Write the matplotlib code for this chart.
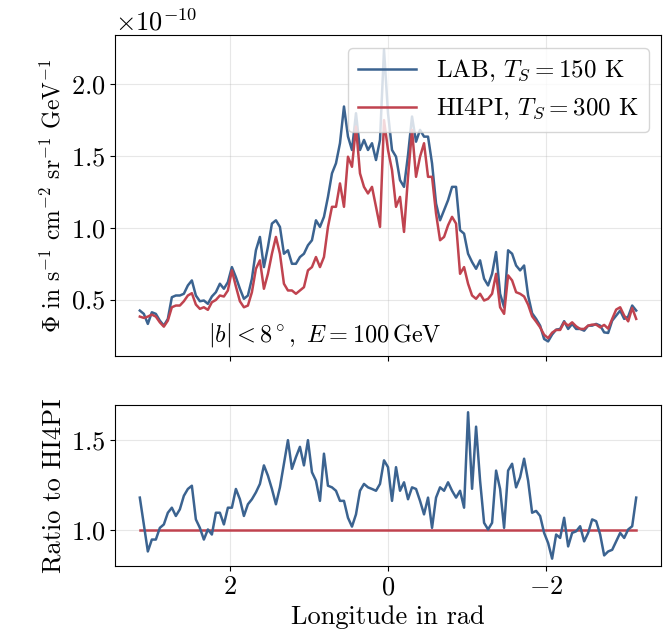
import numpy as np
import matplotlib
matplotlib.use("Agg")
import matplotlib.pyplot as plt

plt.rcParams.update({
    "font.family": "serif",
    "font.serif": ["cmr10"],
    "mathtext.fontset": "cm",
    "axes.formatter.use_mathtext": True,
    "axes.unicode_minus": True,
    "font.size": 19,
})

# Galactic longitude grid, pi -> -pi
lon = np.linspace(np.pi, -np.pi, 125)

# flux in units of 1e-10 s^-1 cm^-2 sr^-1 GeV^-1
lab = [0.423, 0.400, 0.330, 0.411, 0.400, 0.353, 0.318, 0.365, 0.516, 0.528,
       0.528, 0.540, 0.598, 0.633, 0.528, 0.488, 0.493, 0.470, 0.521, 0.551,
       0.610, 0.575, 0.621, 0.726, 0.656, 0.575, 0.505, 0.528, 0.645, 0.843,
       0.936,
       0.726, 0.866, 1.029, 1.052, 1.006, 0.819, 0.843, 0.749, 0.749, 0.796,
       0.819, 0.878, 0.913, 1.052, 1.006, 1.076, 1.215, 1.379, 1.449, 1.589,
       1.845, 1.636, 1.542, 1.798, 1.542, 1.612, 1.542, 1.589, 1.472, 1.612,
       2.241, 1.798,
       1.542, 1.495, 1.332, 1.285, 1.507, 1.775, 1.600, 1.682, 1.635, 1.635,
       1.449, 1.169, 1.052, 1.122, 1.192, 1.285, 1.285, 0.983, 0.959, 0.819,
       0.761, 0.714, 0.773, 0.645, 0.598, 0.679, 0.831, 0.540, 0.446, 0.843,
       0.819, 0.737,
       0.703, 0.737, 0.528, 0.404, 0.365, 0.318, 0.225, 0.208, 0.256, 0.290,
       0.295, 0.349, 0.295, 0.330, 0.295, 0.295, 0.283, 0.318, 0.318, 0.330,
       0.318, 0.271, 0.267, 0.353, 0.388, 0.423, 0.365, 0.381, 0.458, 0.423]

hi4pi = [0.381, 0.372, 0.381, 0.395, 0.381, 0.341, 0.311, 0.353, 0.446, 0.458,
         0.458, 0.488, 0.528, 0.544, 0.465, 0.435, 0.446, 0.428, 0.481, 0.497,
         0.528, 0.521, 0.563, 0.703, 0.591, 0.488, 0.446, 0.458, 0.551, 0.714,
         0.773,
         0.575, 0.679, 0.819, 0.936, 0.819, 0.610, 0.563, 0.563, 0.540, 0.563,
         0.586, 0.703, 0.726, 0.796, 0.726, 0.796, 1.006, 1.146, 1.146, 1.309,
         1.146, 1.495, 1.425, 1.705, 1.379, 1.285, 1.239, 1.285, 1.146, 1.006,
         1.750, 1.542,
         1.402, 1.146, 1.215, 0.971, 1.355, 1.682, 1.355, 1.495, 1.589, 1.355,
         1.355, 1.099, 0.913, 0.936, 1.017, 1.076, 1.029, 0.679, 0.726, 0.610,
         0.528, 0.505, 0.540, 0.493, 0.505, 0.540, 0.679, 0.446, 0.400, 0.668,
         0.633, 0.551,
         0.540, 0.521, 0.464, 0.383, 0.346, 0.306, 0.254, 0.231, 0.269, 0.288,
         0.288, 0.341, 0.318, 0.341, 0.313, 0.295, 0.295, 0.318, 0.325, 0.325,
         0.306, 0.323, 0.297, 0.365, 0.430, 0.446, 0.388, 0.348, 0.441, 0.365]

# LAB / HI4PI
ratio = [1.181, 1.032, 0.882, 0.948, 0.948, 1.013, 1.032, 1.097, 1.125, 1.079,
         1.116, 1.191, 1.229, 1.247, 1.060, 1.013, 0.948, 1.004, 0.976, 1.097,
         1.097, 1.032, 1.125, 1.125, 1.229, 1.172, 1.079, 1.144, 1.172, 1.210,
         1.257, 1.360, 1.303, 1.229, 1.144, 1.238, 1.369, 1.500, 1.341, 1.406,
         1.463, 1.360, 1.500, 1.322, 1.275, 1.163, 1.425, 1.247, 1.238, 1.219,
         1.163, 1.163, 1.069, 1.020, 1.088, 1.219, 1.257, 1.238, 1.229, 1.219,
         1.257, 1.388, 1.350,
         1.163, 1.350, 1.219, 1.266, 1.172, 1.238, 1.229, 1.163, 1.088, 1.181,
         1.013, 1.181, 1.238, 1.219, 1.266, 1.219, 1.181, 1.219, 1.125, 1.655,
         1.230, 1.575, 1.275, 1.041, 1.004, 1.041, 1.331, 1.229, 1.013, 1.331,
         1.369, 1.238, 1.294, 1.397, 1.275, 1.097, 1.107, 1.079, 0.985, 0.929,
         0.842, 0.976, 0.957, 1.069, 0.910, 0.985, 0.994, 1.022, 0.938, 0.985,
         1.060, 1.050, 0.976, 0.860, 0.882, 0.891, 0.938, 0.985, 0.957, 1.004,
         1.022, 1.181]

BLUE = "#3b6390"
RED = "#c0434f"

fig = plt.figure(figsize=(6.64, 6.38), dpi=100)
ax1 = fig.add_axes([0.1732, 0.4420, 0.8223, 0.5030])
ax2 = fig.add_axes([0.1732, 0.1129, 0.8223, 0.2524], sharex=ax1)

ax1.plot(lon, np.array(lab) * 1e-10, color=BLUE, lw=1.8, label=r"LAB, $T_S = 150$ K")
ax1.plot(lon, np.array(hi4pi) * 1e-10, color=RED, lw=1.8, label=r"HI4PI, $T_S = 300$ K")
ax1.text(0.385, 0.065, r"$|b| < 8^\circ,\ E = 100\,\mathrm{GeV}$", transform=ax1.transAxes,
         ha="center", va="center", fontsize=17.5)
ax1.set_ylabel(r"$\Phi$ in s$^{-1}$ cm$^{-2}$ sr$^{-1}$ GeV$^{-1}$", fontsize=17)
ax1.legend(loc="upper right", fontsize=18, handlelength=2.3)
ax1.tick_params(labelbottom=False)

ax2.plot(lon, np.ones_like(lon), color=RED, lw=1.8)
ax2.plot(lon, ratio, color=BLUE, lw=1.8)
ax2.set_ylabel("Ratio to HI4PI")
ax2.set_xlabel("Longitude in rad")
ax2.set_yticks([1.0, 1.5])
ax2.set_xticks([2, 0, -2])
ax2.invert_xaxis()

for ax in (ax1, ax2):
    ax.grid(alpha=0.3)
fig.align_ylabels([ax1, ax2])

fig.savefig("out.png", dpi=100)
